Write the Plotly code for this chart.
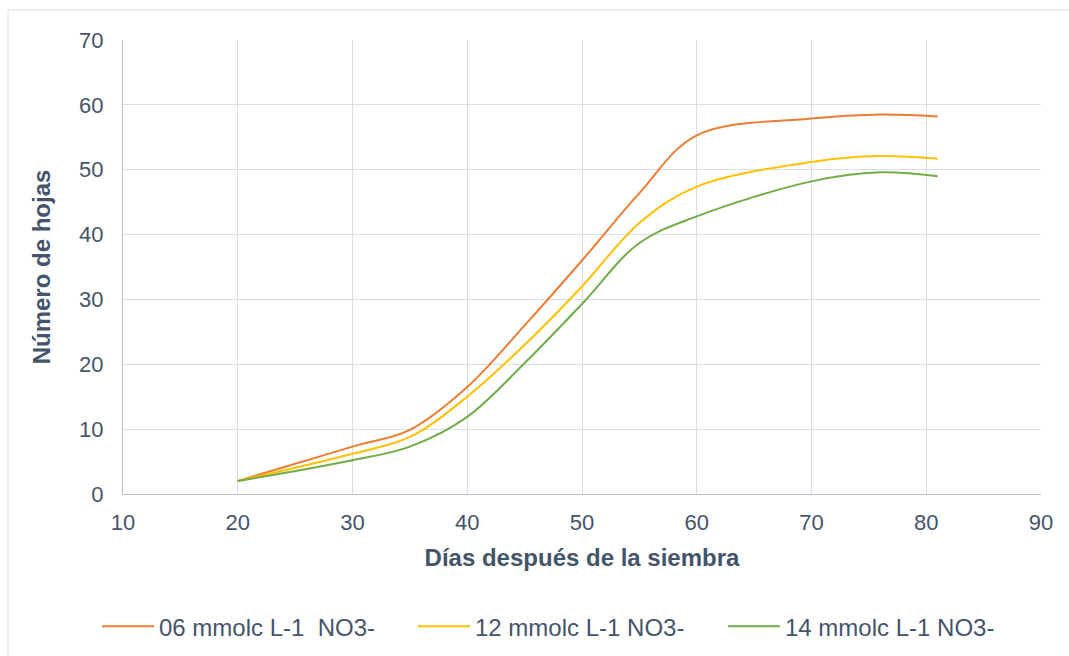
import plotly.graph_objects as go

# Days after sowing and leaf counts per nitrate treatment
dias = [20, 30, 35, 40, 45, 50, 55, 60, 70, 76, 81]
hojas_06 = [2.0, 7.3, 9.9, 16.5, 26.0, 36.0, 46.4, 55.3, 57.9, 58.5, 58.2]
hojas_12 = [2.0, 6.2, 8.8, 15.0, 23.0, 32.0, 41.8, 47.4, 51.2, 52.1, 51.7]
hojas_14 = [2.0, 5.2, 7.3, 11.9, 20.2, 29.3, 38.7, 42.8, 48.2, 49.6, 49.0]

nombres = ["06 mmolc L-1  NO3-", "12 mmolc L-1 NO3-", "14 mmolc L-1 NO3-"]
colores = ["#ED7D31", "#FFC000", "#70AD47"]

x_ticks = [10, 20, 30, 40, 50, 60, 70, 80, 90]
y_ticks = [0, 10, 20, 30, 40, 50, 60, 70]

text_color = "#44546A"
grid_color = "#D9DDE5"
axis_color = "#B8BFCC"
font_family = "Liberation Sans, Arial, sans-serif"

PLOT_LEFT, PLOT_WIDTH = 123, 918
legend_ids = ["legend", "legend2", "legend3"]
legend_px = [97, 413, 723]  # left edge of each legend entry, in pixels

fig = go.Figure()
for serie, nombre, color, lid in zip([hojas_06, hojas_12, hojas_14], nombres, colores, legend_ids):
    fig.add_trace(go.Scatter(
        x=dias, y=serie, name=nombre, mode="lines", legend=lid, showlegend=True,
        line=dict(color=color, width=2, shape="spline", smoothing=1.0),
    ))

legend_layouts = {
    lid: dict(
        orientation="h", x=(px - PLOT_LEFT) / PLOT_WIDTH, xanchor="left",
        y=-0.292, yanchor="middle", bgcolor="rgba(0,0,0,0)",
        itemwidth=52,
        font=dict(size=24, color=text_color, family=font_family),
    )
    for lid, px in zip(legend_ids, legend_px)
}

fig.update_layout(
    width=1069, height=656, showlegend=True,
    paper_bgcolor="white", plot_bgcolor="white",
    margin=dict(l=123, r=28, t=40, b=162, autoexpand=False),
    font=dict(family=font_family, color=text_color, size=22),
    shapes=[dict(
        type="rect", xref="paper", yref="paper",
        x0=-0.1253, x1=1.2, y0=-1.0, y1=1.066,
        line=dict(color="#DADDE3", width=1), layer="below",
    )],
    **legend_layouts,
)

fig.update_xaxes(
    range=[10, 90], tickvals=x_ticks, ticktext=[str(v) for v in x_ticks],
    showgrid=True, gridcolor=grid_color, gridwidth=1,
    showline=True, linecolor=axis_color, linewidth=1,
    zeroline=False, ticks="", tickfont=dict(size=22, color=text_color),
    ticklabelstandoff=9,
    title=dict(text="<b>Días después de la siembra</b>",
               font=dict(size=24, color=text_color), standoff=14),
)
fig.update_yaxes(
    range=[0, 70], tickvals=y_ticks, ticktext=[str(v) for v in y_ticks],
    showgrid=True, gridcolor=grid_color, gridwidth=1,
    showline=True, linecolor=axis_color, linewidth=1,
    zeroline=False, ticks="", tickfont=dict(size=22, color=text_color),
    ticklabelstandoff=14,
    title=dict(text="<b>Número de hojas</b>",
               font=dict(size=24, color=text_color), standoff=21),
)

fig.write_html("out.html")
